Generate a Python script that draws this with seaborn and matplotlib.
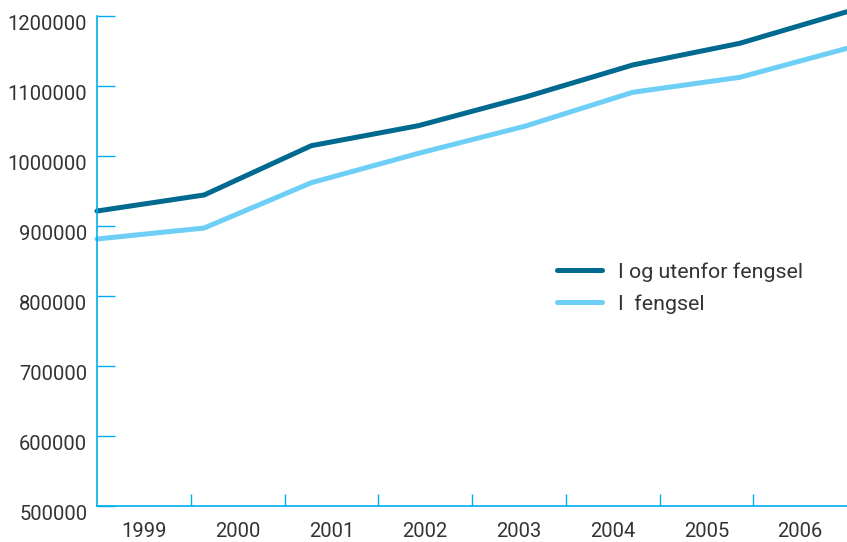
import numpy as np
import pandas as pd
import seaborn as sns
import matplotlib
matplotlib.use("Agg")
import matplotlib.pyplot as plt
import matplotlib.transforms as mtransforms

aar = ["1999", "2000", "2001", "2002", "2003", "2004", "2005", "2006"]
i_og_utenfor = [920700, 943600, 1014000, 1042600, 1083600, 1129300, 1160300, 1205400]
i_fengsel = [880700, 896400, 961100, 1003100, 1042100, 1090300, 1111700, 1153100]
serier = ["I og utenfor fengsel", "I  fengsel"]
farger = ["#00698f", "#6dcff6"]
akse_farge = "#00aeef"
tekst_farge = "#333333"

df = pd.DataFrame({
    "pos": list(range(len(aar))) * 2,
    "verdi": i_og_utenfor + i_fengsel,
    "serie": [serier[0]] * len(aar) + [serier[1]] * len(aar),
})

sns.set_style("white")
plt.rcParams["font.family"] = ["Roboto", "DejaVu Sans"]

fig = plt.figure(figsize=(8.47, 5.42), dpi=100)
ax = fig.add_axes([97 / 847, 1 - 505.5 / 542, 750 / 847, 490 / 542])

sns.lineplot(data=df, x="pos", y="verdi", hue="serie", palette=farger,
             linewidth=3.6, ax=ax, clip_on=False)

n = len(aar)
ax.set_xlim(0, n - 1)
ax.set_ylim(500000, 1200000)
ax.set_yticks(np.arange(500000, 1200001, 100000))
ax.set_yticklabels([str(v) for v in range(500000, 1200001, 100000)])

# kategorigrenser som store tikk, årstall midt mellom
steg = (n - 1) / n
ax.set_xticks([steg * k for k in range(1, n)])
ax.set_xticklabels([])
ax.set_xticks([steg * (k + 0.5) for k in range(n)], minor=True)
ax.set_xticklabels(aar, minor=True)

ax.tick_params(axis="x", which="major", bottom=True, direction="in", length=9,
               width=1, color=akse_farge)
ax.tick_params(axis="x", which="minor", bottom=True, length=0, pad=12,
               labelsize=14.5, labelcolor=tekst_farge)
ax.tick_params(axis="y", left=True, direction="in", length=13, width=1,
               color=akse_farge, labelsize=14.5, labelcolor=tekst_farge, pad=7)

# y-etikettene står litt under tikkene i originalen
forskyv = mtransforms.ScaledTranslation(0, -7 / 100, fig.dpi_scale_trans)
for lbl in ax.get_yticklabels():
    lbl.set_transform(lbl.get_transform() + forskyv)

for side in ["top", "right"]:
    ax.spines[side].set_visible(False)
for side in ["left", "bottom"]:
    ax.spines[side].set_color(akse_farge)
    ax.spines[side].set_linewidth(1.2)

ax.set_xlabel("")
ax.set_ylabel("")
ax.grid(False)

ax.legend(frameon=False, loc="center left", bbox_to_anchor=(0.613, 0.444),
          fontsize=15.4, handlelength=2.1, handletextpad=0.75, labelspacing=0.6,
          labelcolor=tekst_farge, borderaxespad=0, borderpad=0)

fig.savefig("out.png", dpi=100)
